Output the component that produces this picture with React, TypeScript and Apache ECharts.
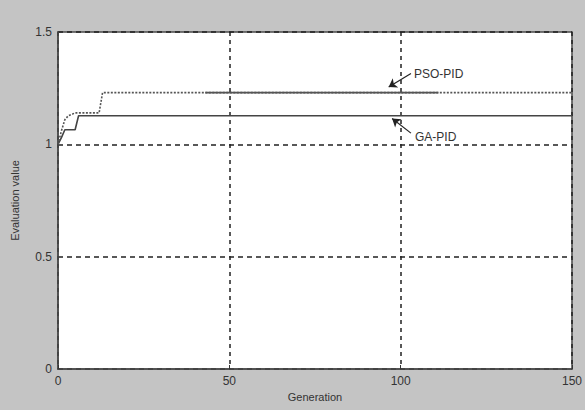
import React, { useEffect, useRef } from "react";
import * as echarts from "echarts";

const xTicks = [0, 50, 100, 150];
const yTicks = [0, 0.5, 1, 1.5];

// GA-PID evaluation value per generation
const gaGen = [0, 1, 2, 5, 6, 150];
const gaVal = [1.0, 1.03, 1.065, 1.065, 1.127, 1.127];

// PSO-PID evaluation value per generation
const psoGen = [0, 1, 2, 3, 5, 12, 13, 150];
const psoVal = [1.0, 1.06, 1.11, 1.127, 1.14, 1.14, 1.23, 1.23];

// section of the PSO-PID curve that prints as a solid line in the source
const psoSolidGen = [43, 111];
const psoSolidVal = [1.23, 1.23];

const zip = (a: number[], b: number[]) => a.map((v, i) => [v, b[i]]);

export default function App() {
  const ref = useRef<HTMLDivElement>(null);
  useEffect(() => {
    const chart = echarts.init(ref.current!, null, { renderer: "svg" });
    const font = "Liberation Sans, Arial, sans-serif";
    chart.setOption({
      animation: false,
      backgroundColor: "#c4c4c4",
      grid: {
        left: 58,
        top: 32,
        right: 12,
        bottom: 41,
        show: true,
        backgroundColor: "#ffffff",
        borderColor: "#4a4a4a",
        borderWidth: 1.5,
      },
      xAxis: {
        type: "value",
        min: xTicks[0],
        max: xTicks[xTicks.length - 1],
        interval: 50,
        name: "Generation",
        nameLocation: "middle",
        nameGap: 22,
        nameTextStyle: { color: "#333", fontSize: 11, fontFamily: font, padding: [0, 0, 0, 0] },
        axisLine: { show: true, lineStyle: { color: "#4a4a4a", width: 1.5 } },
        axisTick: { show: true, inside: true, length: 4, lineStyle: { color: "#333" } },
        axisLabel: { color: "#333", fontSize: 12, fontFamily: font, margin: 6 },
        splitLine: { show: true, lineStyle: { color: "#222", type: [4, 4], width: 1.5 } },
      },
      yAxis: {
        type: "value",
        min: yTicks[0],
        max: yTicks[yTicks.length - 1],
        interval: 0.5,
        name: "Evaluation value",
        nameLocation: "middle",
        nameGap: 38,
        nameTextStyle: { color: "#333", fontSize: 11, fontFamily: font },
        axisLine: { show: true, lineStyle: { color: "#4a4a4a", width: 1.5 } },
        axisTick: { show: false },
        axisLabel: { color: "#333", fontSize: 12, fontFamily: font, margin: 6, formatter: (v: number) => String(v) },
        splitLine: { show: true, lineStyle: { color: "#222", type: [5, 4], width: 1.5 } },
      },
      series: [
        {
          name: "GA-PID",
          type: "line",
          data: zip(gaGen, gaVal),
          symbol: "none",
          lineStyle: { color: "#444", width: 1.6 },
          markLine: {
            silent: true,
            symbol: ["none", "arrow"],
            symbolSize: 8,
            label: { show: false },
            lineStyle: { color: "#222", width: 1.2, type: "solid" },
            data: [[{ coord: [103, 1.05] }, { coord: [97.5, 1.115] }]],
          },
        },
        {
          name: "PSO-PID",
          type: "line",
          data: zip(psoGen, psoVal),
          symbol: "none",
          lineStyle: { color: "#555", width: 1.6, type: [2, 1.5] },
          markLine: {
            silent: true,
            symbol: ["none", "arrow"],
            symbolSize: 8,
            label: { show: false },
            lineStyle: { color: "#222", width: 1.2, type: "solid" },
            data: [[{ coord: [103, 1.315] }, { coord: [96.5, 1.255] }]],
          },
        },
        {
          name: "PSO-PID solid part",
          type: "line",
          data: zip(psoSolidGen, psoSolidVal),
          symbol: "none",
          lineStyle: { color: "#555", width: 1.6 },
        },
      ],
      graphic: [
        {
          type: "text",
          left: 414,
          top: 68,
          style: { text: "PSO-PID", fill: "#333", fontSize: 12, fontFamily: font },
        },
        {
          type: "text",
          left: 415,
          top: 131,
          style: { text: "GA-PID", fill: "#333", fontSize: 12, fontFamily: font },
        },
      ],
    });
    return () => chart.dispose();
  }, []);
  return <div ref={ref} style={{ width: 585, height: 410, position: "absolute", left: 0, top: 0 }} />;
}
